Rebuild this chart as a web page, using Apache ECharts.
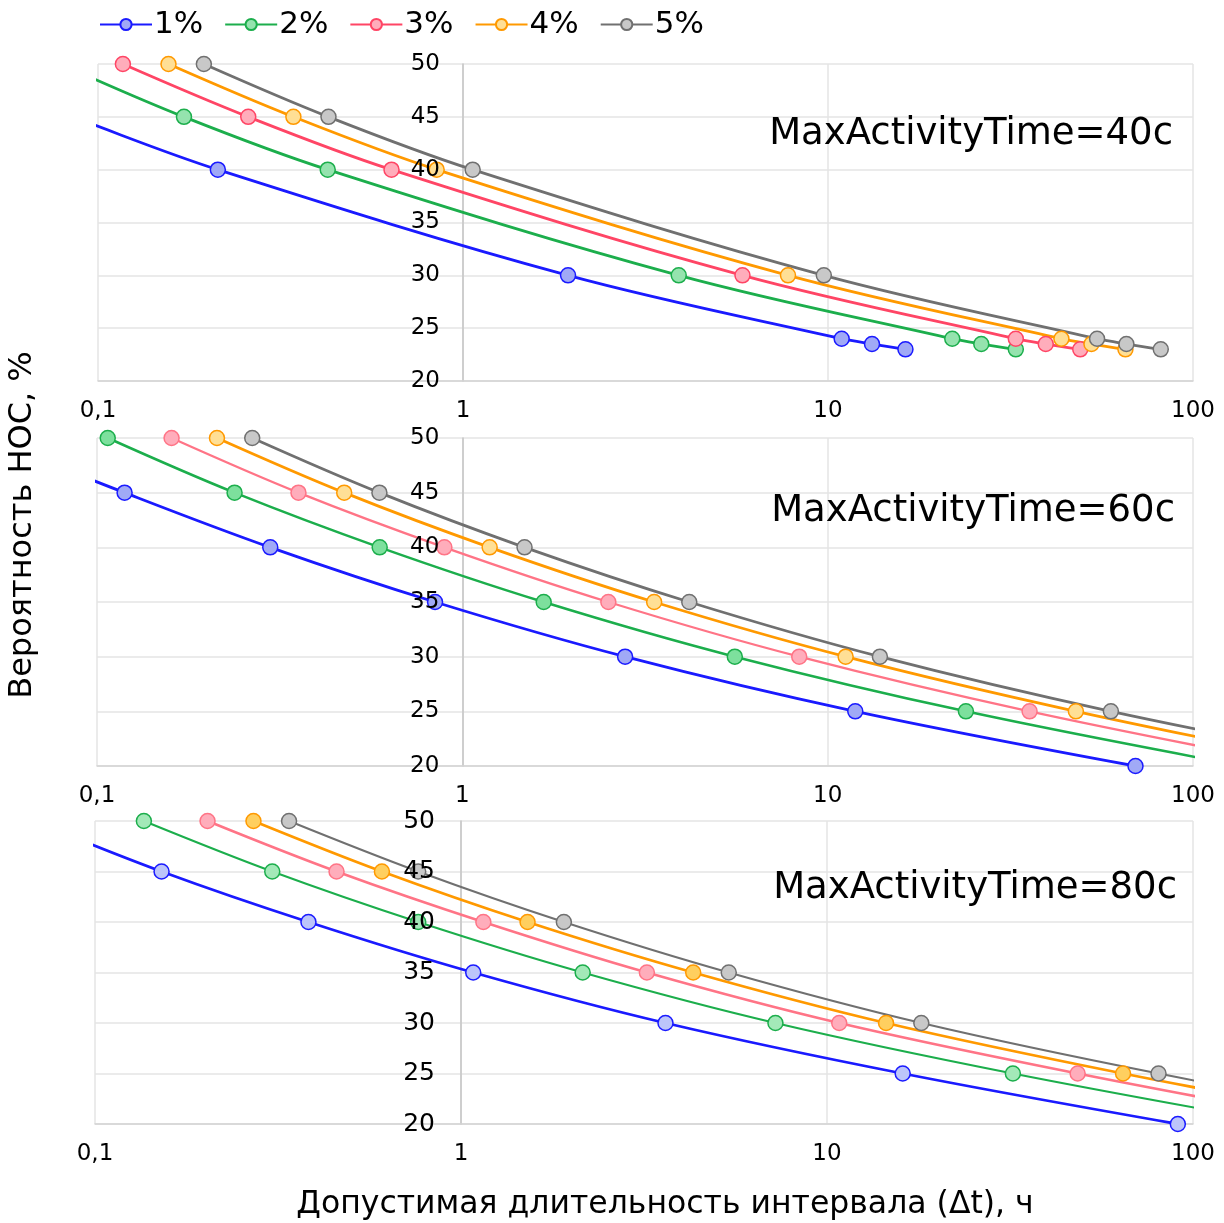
<!DOCTYPE html>
<html><head><meta charset="utf-8">
<script src="https://cdn.jsdelivr.net/npm/echarts@6/dist/echarts.min.js"></script>
<style>html,body{margin:0;padding:0;background:#fff}#c{width:1224px;height:1223px}</style>
</head><body><div id="c"></div>
<script>
// ---- data ----
const seriesNames = ['1%', '2%', '3%', '4%', '5%'];
const panelLabels = ['MaxActivityTime=40с', 'MaxActivityTime=60с', 'MaxActivityTime=80с'];
const xAxisTitle = 'Допустимая длительность интервала (Δt), ч';
const yAxisTitle = 'Вероятность НОС, %';
const xMin = 0.1, xMax = 100;
const yMin = 20, yMax = 50, yStep = 5;

// MaxActivityTime = 40 c : probability levels and interval lengths (h)
const levels40 = [50, 45, 40, 30, 24, 23.5, 23];
const t40_1 = [0.034, 0.085, 0.213, 1.94, 10.9, 13.2, 16.3];
const t40_2 = [0.079, 0.172, 0.426, 3.90, 21.9, 26.3, 32.7];
const t40_3 = [0.117, 0.258, 0.637, 5.83, 32.7, 39.5, 49.1];
const t40_4 = [0.156, 0.343, 0.847, 7.77, 43.6, 52.7, 65.3];
const t40_5 = [0.195, 0.428, 1.063, 9.74, 54.6, 65.7, 81.6];

// MaxActivityTime = 60 c
const levels60 = [50, 45, 40, 35, 30, 25, 20];
const t60_1 = [0.050, 0.119, 0.298, 0.842, 2.79, 11.9, 69.6];
const t60_2 = [0.107, 0.238, 0.594, 1.67, 5.57, 23.9, 137];
const t60_3 = [0.160, 0.356, 0.893, 2.51, 8.36, 35.7, 199];
const t60_4 = [0.213, 0.475, 1.188, 3.35, 11.2, 47.8, 257];
const t60_5 = [0.266, 0.593, 1.48, 4.18, 13.9, 59.6, 335];

// MaxActivityTime = 80 c
const levels80 = [50, 45, 40, 35, 30, 25, 20];
const t80_1 = [0.068, 0.152, 0.383, 1.08, 3.62, 16.1, 90.9];
const t80_2 = [0.136, 0.305, 0.764, 2.15, 7.23, 32.2, 179];
const t80_3 = [0.203, 0.457, 1.151, 3.22, 10.8, 48.4, 261];
const t80_4 = [0.271, 0.608, 1.52, 4.31, 14.5, 64.4, 350];
const t80_5 = [0.339, 0.764, 1.91, 5.39, 18.1, 80.5, 450];

// ---- styling ----
const FONT = 'DejaVu Sans';
const panels = [
  { levels: levels40, xs: [t40_1, t40_2, t40_3, t40_4, t40_5], grid: { left: 98, top: 64, width: 1095, height: 317 }, yFont: 23, yMargin: 23,
    label: { right: 51, top: 116 },
    line: ['#1a1aff', '#1cae4c', '#ff4565', '#ff9900', '#707070'],
    fill: ['#a0a9f6', '#95e3ae', '#ffadbb', '#ffdf95', '#c8c8c8'],
    width: [2.8, 2.8, 2.8, 2.8, 2.8] },
  { levels: levels60, xs: [t60_1, t60_2, t60_3, t60_4, t60_5], grid: { left: 97, top: 438, width: 1096, height: 328 }, yFont: 23, yMargin: 23,
    label: { right: 49, top: 493 },
    line: ['#1a1aff', '#1cae4c', '#ff7486', '#ff9900', '#707070'],
    fill: ['#a0a9f6', '#7de09d', '#ffadbb', '#ffdf95', '#c8c8c8'],
    width: [2.8, 2.5, 2.3, 2.8, 2.8] },
  { levels: levels80, xs: [t80_1, t80_2, t80_3, t80_4, t80_5], grid: { left: 95, top: 821, width: 1098, height: 303 }, yFont: 25, yMargin: 26,
    label: { right: 47, top: 870 },
    line: ['#1a1aff', '#1cae4c', '#ff7486', '#ff9900', '#707070'],
    fill: ['#bcc5fa', '#a3e9b8', '#ffadbb', '#ffcf5f', '#c8c8c8'],
    width: [2.8, 2, 2.5, 2.8, 2] }
];

const grids = [], xAxes = [], yAxes = [], series = [], graphics = [];
panels.forEach((p, i) => {
  grids.push(Object.assign({ outerBoundsMode: 'none', containLabel: false }, p.grid));
  xAxes.push({
    type: 'log', logBase: 10, min: xMin, max: xMax, gridIndex: i,
    axisLine: { show: true, onZero: false, lineStyle: { color: '#d4d4d4', width: 1.5 } },
    axisTick: { show: false }, minorTick: { show: false },
    splitLine: { show: true, lineStyle: { color: '#e4e4e4', width: 1.5 } },
    axisLabel: { fontSize: 23, fontFamily: FONT, color: '#000', margin: 19,
      formatter: v => String(v).replace('.', ',') }
  });
  const off = -p.grid.width / 3;
  yAxes.push({
    type: 'value', min: yMin, max: yMax, interval: yStep, gridIndex: i, position: 'left', offset: off,
    axisLine: { show: true, onZero: false, lineStyle: { color: '#c4c4c4', width: 1.5 } },
    axisTick: { show: false },
    splitLine: { show: true, lineStyle: { color: '#e4e4e4', width: 1.5 } },
    axisLabel: { show: false }
  });
  yAxes.push({
    type: 'value', min: yMin, max: yMax, interval: yStep, gridIndex: i, position: 'left', offset: off, z: 20,
    axisLine: { show: false, onZero: false }, axisTick: { show: false }, splitLine: { show: false },
    axisLabel: { fontSize: p.yFont, fontFamily: FONT, color: '#000', margin: p.yMargin }
  });
  p.xs.forEach((xs, s) => {
    series.push({
      type: 'line', name: seriesNames[s], xAxisIndex: i, yAxisIndex: 2 * i,
      data: xs.map((x, k) => [x, p.levels[k]]),
      smooth: 0.35, clip: true, symbol: 'circle', symbolSize: 15,
      lineStyle: { color: p.line[s], width: p.width[s] },
      itemStyle: { color: p.fill[s], borderColor: p.line[s], borderWidth: 1.5 },
      emphasis: { disabled: true }, animation: false
    });
  });
  graphics.push({
    type: 'text', right: p.label.right, top: p.label.top, z: 30,
    style: { text: panelLabels[i], font: '37px "' + FONT + '"', fill: '#000' }
  });
});

graphics.push({
  type: 'text', x: 23, y: 525, rotation: Math.PI / 2, z: 30,
  style: { text: yAxisTitle, font: '32px "' + FONT + '"', fill: '#000', align: 'center', verticalAlign: 'middle' }
});
graphics.push({
  type: 'text', x: 665, y: 1205, z: 30,
  style: { text: xAxisTitle, font: '31.5px "' + FONT + '"', fill: '#000', align: 'center', verticalAlign: 'middle' }
});

const chart = echarts.init(document.getElementById('c'), null, { renderer: 'canvas' });
chart.setOption({
  backgroundColor: '#fff',
  animation: false,
  textStyle: { fontFamily: FONT },
  legend: {
    data: seriesNames, left: 94, top: 4, itemWidth: 52, itemHeight: 14, itemGap: 21,
    textStyle: { fontSize: 31, fontFamily: FONT, color: '#000', padding: [0, 0, 0, -3] }
  },
  grid: grids, xAxis: xAxes, yAxis: yAxes, series: series, graphic: graphics
});
</script></body></html>
